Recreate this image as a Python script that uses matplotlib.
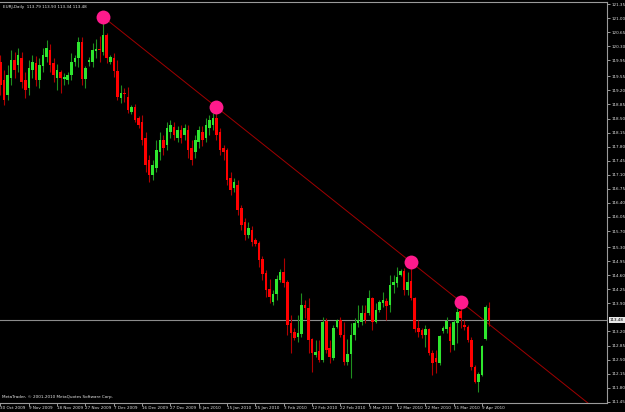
import matplotlib
matplotlib.use('Agg')
import matplotlib.pyplot as plt
import numpy as np

title = "EURJ,Daily  113.79 113.93 113.34 113.48"
copyright_text = "MetaTrader, \u00a9 2001-2010 MetaQuotes Software Corp."

opens = [119.91,119.46,119.09,119.51,119.96,119.83,120.01,119.46,119.26,119.71,
         119.88,119.46,119.81,120.03,120.21,119.88,119.51,119.66,119.48,119.46,
         119.58,119.91,120.01,120.41,119.48,119.91,119.91,120.18,120.23,120.16,
         120.58,119.91,120.01,119.68,119.01,119.14,119.04,118.66,118.79,118.51,
         118.41,118.02,117.47,117.10,117.27,117.67,117.97,117.84,118.17,118.29,
         118.02,118.22,118.09,118.22,117.77,117.67,117.92,118.17,118.02,118.27,
         118.34,118.51,118.17,117.77,117.72,117.02,116.77,116.85,116.27,115.93,
         115.60,115.73,115.48,115.40,115.01,114.66,114.26,113.94,114.14,114.48,
         114.68,114.43,113.41,113.19,113.07,113.14,113.86,113.79,113.02,112.62,
         112.72,112.49,113.46,112.79,112.54,113.31,113.49,113.12,112.44,112.64,
         113.12,113.41,113.44,113.66,113.66,114.04,113.44,113.74,113.91,113.96,
         113.86,114.36,114.41,114.61,114.71,114.23,114.46,114.04,113.29,113.24,
         113.12,113.26,112.67,112.54,112.42,113.21,113.26,113.31,112.87,113.41,
         113.71,113.36,113.31,112.99,112.32,111.95,112.12,113.02,113.79]
highs = [120.08,119.71,119.83,120.21,120.16,120.26,120.16,119.66,119.96,120.08,
         120.06,120.01,120.26,120.45,120.36,120.01,119.86,119.71,119.63,119.66,
         120.13,120.08,120.53,120.53,119.81,120.03,120.38,120.48,120.55,120.88,
         120.63,120.08,120.13,119.96,119.34,119.26,119.29,118.84,118.86,118.56,
         118.59,118.17,117.59,117.47,117.97,118.17,118.09,118.41,118.46,118.41,
         118.32,118.34,118.36,118.34,117.97,118.09,118.32,118.32,118.51,118.59,
         118.64,118.66,118.27,117.84,117.77,117.17,117.02,116.97,116.35,116.03,
         115.93,115.83,115.53,115.45,115.08,114.73,114.51,114.23,114.61,114.76,
         115.03,114.48,113.61,113.29,113.61,114.16,113.99,114.04,113.04,112.99,
         112.99,113.56,113.54,112.99,113.36,113.51,113.56,113.44,113.02,113.41,
         113.54,113.86,113.86,113.86,114.23,114.06,113.91,113.99,114.18,114.04,
         114.61,114.61,114.81,114.76,114.78,114.68,114.78,114.06,113.49,113.29,
         113.36,113.29,112.74,112.74,113.12,113.34,113.56,113.41,113.49,113.79,
         113.81,113.49,113.36,113.07,112.37,112.19,112.87,113.86,113.93]
lows = [119.09,118.84,118.96,119.34,119.51,119.66,119.26,119.01,119.09,119.51,
        119.31,119.26,119.66,119.91,119.66,119.41,119.21,119.14,119.34,119.36,
        119.46,119.81,119.78,119.34,119.26,119.81,119.78,120.01,119.91,120.08,
        119.88,119.86,119.53,118.96,118.89,118.91,118.64,118.61,118.41,118.27,
        117.84,117.17,116.92,116.97,117.17,117.47,117.59,117.72,118.02,117.97,
        117.92,117.89,117.97,117.52,117.34,117.52,117.77,117.82,117.92,118.09,
        118.22,117.97,117.59,117.47,116.85,116.60,116.67,116.10,115.73,115.48,
        115.53,115.33,115.33,114.81,114.48,114.06,113.91,113.86,113.99,114.43,
        114.31,113.11,112.67,112.99,112.94,113.07,113.54,112.67,112.19,112.57,
        112.44,112.44,112.67,112.42,112.49,113.29,113.07,112.37,112.37,112.05,
        112.99,113.31,113.36,113.41,113.61,113.24,113.41,113.69,113.81,113.49,
        113.69,114.16,114.31,114.58,114.11,114.11,113.99,113.19,113.07,113.04,
        112.82,112.62,112.12,112.17,112.37,113.17,113.17,112.69,112.74,112.92,
        113.29,113.24,112.94,112.24,111.92,111.70,112.10,112.99,113.34]
closes = [119.34,118.96,119.58,119.96,119.71,120.08,119.41,119.21,119.76,119.91,
          119.46,119.83,120.08,120.26,119.83,119.58,119.71,119.51,119.53,119.58,
          119.91,120.01,120.41,119.48,119.76,119.96,120.21,120.23,120.21,120.58,
          120.01,120.03,119.68,119.04,119.14,119.11,118.71,118.79,118.46,118.34,
          117.97,117.34,117.10,117.34,117.72,117.97,117.77,118.27,118.34,118.09,
          118.22,118.02,118.27,117.72,117.47,117.97,118.22,117.97,118.34,118.46,
          118.51,118.09,117.72,117.67,116.97,116.72,116.92,116.22,115.85,115.60,
          115.78,115.43,115.38,114.98,114.63,114.23,114.06,114.14,114.51,114.68,
          114.41,113.36,113.16,113.04,113.16,113.86,113.79,112.99,112.67,112.69,
          112.49,113.44,112.74,112.57,113.29,113.49,113.12,112.44,112.64,113.12,
          113.41,113.49,113.66,113.49,114.04,113.44,113.74,113.94,113.99,113.84,
          114.36,114.43,114.56,114.71,114.23,114.43,114.04,113.26,113.19,113.12,
          113.26,112.67,112.42,112.44,113.09,113.29,113.46,112.97,113.44,113.69,
          113.54,113.31,112.99,112.32,111.95,112.14,112.84,113.81,113.48]

date_labels = ["30 Oct 2009", "9 Nov 2009", "18 Nov 2009", "27 Nov 2009", "7 Dec 2009",
               "16 Dec 2009", "27 Dec 2009", "6 Jan 2010", "15 Jan 2010", "25 Jan 2010",
               "3 Feb 2010", "12 Feb 2010", "22 Feb 2010", "3 Mar 2010", "12 Mar 2010",
               "22 Mar 2010", "31 Mar 2010", "9 Apr 2010"]
date_label_step = 8

price_ticks = [121.35, 121.00, 120.65, 120.30, 119.95, 119.55, 119.20, 118.85, 118.50,
               118.15, 117.80, 117.45, 117.10, 116.75, 116.40, 116.05, 115.70, 115.30,
               114.95, 114.60, 114.25, 113.90, 113.20, 112.85, 112.50, 112.15,
               111.80, 111.45]

peak_bars = [29, 61, 116, 130]
peak_prices = [121.03, 118.79, 114.93, 113.94]
trend_bars = [29, 130]
trend_prices = [121.03, 113.94]
last_price = 113.48

W, H = 625, 412
FS = 3.0
fig = plt.figure(figsize=(W / 100, H / 100), dpi=100, facecolor='black')
ax = fig.add_axes([0, 9 / H, 607 / W, 401 / H])
ax.set_facecolor('black')

n = len(opens)
x = np.arange(n)
o = np.array(opens); hi = np.array(highs); lo = np.array(lows); c = np.array(closes)
up = c >= o

bull_body, bull_wick = '#2ee62e', '#1f8f1f'
bear_body, bear_wick = '#ff0000', '#b00000'

ax.vlines(x[up], lo[up], hi[up], color=bull_wick, lw=0.8, zorder=2)
ax.vlines(x[~up], lo[~up], hi[~up], color=bear_wick, lw=0.8, zorder=2)
bottoms = np.minimum(o, c)
heights = np.maximum(np.abs(c - o), 0.025)
ax.bar(x[up], heights[up], bottom=bottoms[up], width=0.72, color=bull_body,
       linewidth=0, zorder=3)
ax.bar(x[~up], heights[~up], bottom=bottoms[~up], width=0.72, color=bear_body,
       linewidth=0, zorder=3)

xlim = (-0.14, 171.3)
ylim = (111.42, 121.40)

slope = (trend_prices[1] - trend_prices[0]) / (trend_bars[1] - trend_bars[0])
x_end = xlim[1]
ax.plot([trend_bars[0], x_end],
        [trend_prices[0], trend_prices[0] + slope * (x_end - trend_bars[0])],
        color='#a00000', lw=0.7, zorder=1)

ax.plot(peak_bars, peak_prices, 'o', color='#ff1a8c', markersize=10,
        markeredgewidth=0, zorder=5)

ax.axhline(last_price, color='#8c8c8c', lw=0.8, zorder=1)

ax.set_xlim(*xlim)
ax.set_ylim(*ylim)

for s in ['top', 'right', 'bottom', 'left']:
    ax.spines[s].set_color('#9a9a9a')
    ax.spines[s].set_linewidth(0.8)
ax.spines['left'].set_visible(False)

tick_col = '#e0e0e0'
ax.yaxis.tick_right()
ax.set_yticks(price_ticks)
ax.set_yticklabels([f"{v:.2f}" for v in price_ticks])
ax.tick_params(axis='y', direction='out', length=2.5, width=0.7, color='#9a9a9a',
               labelsize=FS, labelcolor=tick_col, pad=1)

xt = np.arange(len(date_labels)) * date_label_step
ax.set_xticks(xt)
ax.set_xticklabels(date_labels, ha='left')
ax.tick_params(axis='x', direction='out', length=2.0, width=0.7, color='#9a9a9a',
               labelsize=FS, labelcolor=tick_col, pad=0.5)

ax.annotate(f"{last_price:.2f}", xy=(1.0, last_price), xycoords=('axes fraction', 'data'),
            xytext=(2.0, 0), textcoords='offset points', ha='left', va='center',
            fontsize=FS, color='black',
            bbox=dict(boxstyle='square,pad=0.2', fc='#e8e8e8', ec='none'),
            annotation_clip=False)

ax.text(3 / 607, (403 - 7) / 401, title, transform=ax.transAxes, fontsize=FS,
        color='#e8e8e8', ha='left', va='center')
ax.text(2 / 607, (403 - 397) / 401, copyright_text, transform=ax.transAxes,
        fontsize=FS, color='#e8e8e8', ha='left', va='center')

fig.savefig('out.png', dpi=100, facecolor='black')
